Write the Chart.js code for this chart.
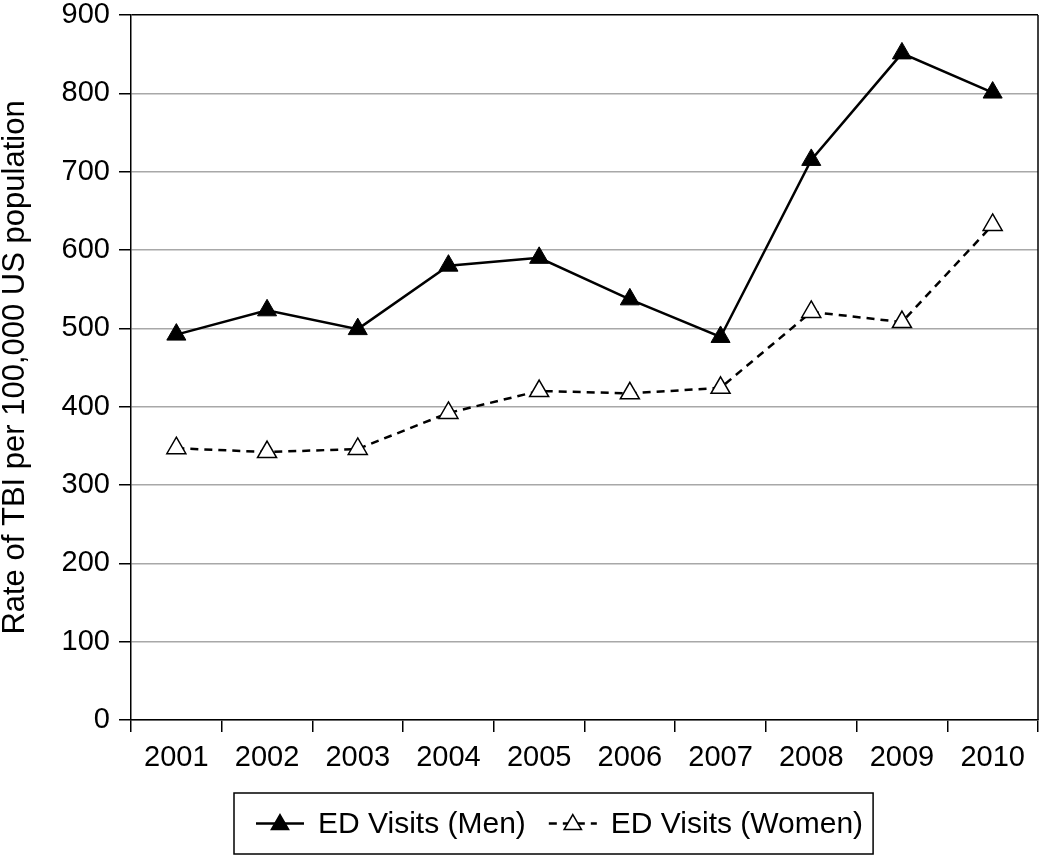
<!DOCTYPE html>
<html>
<head>
<meta charset="utf-8">
<script src="https://cdn.jsdelivr.net/npm/chart.js@4.4.1/dist/chart.umd.min.js"></script>
<style>
  html, body { margin: 0; padding: 0; background: #fff; }
  .wrap { width: 1040px; height: 856px; position: relative; }
</style>
</head>
<body>
<div class="wrap"><canvas id="chart"></canvas></div>
<script>
const years = ["2001", "2002", "2003", "2004", "2005", "2006", "2007", "2008", "2009", "2010"];
const menVisits = [492, 523, 499, 580, 590, 537, 489, 715, 851, 801];
const womenVisits = [347, 342, 346, 392, 420, 417, 424, 521, 508, 632];
const yTicks = [0, 100, 200, 300, 400, 500, 600, 700, 800, 900];

const FONT = '"Liberation Sans", Arial, Helvetica, sans-serif';

function triangle(ctx, x, y, r) {
  ctx.beginPath();
  ctx.moveTo(x, y - r);
  ctx.lineTo(x + Math.sin(2 * Math.PI / 3) * r, y + r / 2);
  ctx.lineTo(x - Math.sin(2 * Math.PI / 3) * r, y + r / 2);
  ctx.closePath();
}

// right border of the plot box
const frame = {
  id: "frame",
  afterDatasetsDraw(chart) {
    const { ctx, chartArea: a } = chart;
    ctx.save();
    ctx.strokeStyle = "#000";
    ctx.lineWidth = 1.5;
    ctx.beginPath();
    ctx.moveTo(a.right, a.top);
    ctx.lineTo(a.right, a.bottom);
    ctx.stroke();
    ctx.restore();
  }
};

// boxed legend under the axis, line sample + marker + text
const boxLegend = {
  id: "boxLegend",
  afterDraw(chart) {
    const ctx = chart.ctx;
    const boxLeft = 234, boxTop = 793, boxH = 61;
    const cy = boxTop + boxH / 2;
    ctx.save();
    ctx.font = "30px " + FONT;
    ctx.textBaseline = "middle";
    let x = boxLeft + 22;
    chart.data.datasets.forEach((ds) => {
      ctx.strokeStyle = "#000";
      ctx.lineWidth = 2.5;
      ctx.setLineDash(ds.borderDash || []);
      ctx.beginPath();
      ctx.moveTo(x, cy);
      ctx.lineTo(x + 48, cy);
      ctx.stroke();
      ctx.setLineDash([]);
      triangle(ctx, x + 24, cy + 1, 10);
      ctx.fillStyle = ds.pointBackgroundColor;
      ctx.fill();
      ctx.lineWidth = 1.5;
      ctx.stroke();
      ctx.fillStyle = "#000";
      ctx.fillText(ds.label, x + 62, cy + 1);
      x += 62 + ctx.measureText(ds.label).width + 23;
    });
    const boxRight = x - 23 + 10;
    ctx.lineWidth = 1.5;
    ctx.strokeStyle = "#000";
    ctx.strokeRect(boxLeft, boxTop, boxRight - boxLeft, boxH);
    ctx.restore();
  }
};

new Chart(document.getElementById("chart"), {
  type: "line",
  data: {
    labels: years,
    datasets: [
      {
        label: "ED Visits (Men)",
        data: menVisits,
        borderColor: "#000",
        borderWidth: 2.5,
        pointStyle: "triangle",
        pointRadius: 11,
        pointBackgroundColor: "#000",
        pointBorderColor: "#000",
        pointBorderWidth: 1,
        tension: 0
      },
      {
        label: "ED Visits (Women)",
        data: womenVisits,
        borderColor: "#000",
        borderWidth: 2.5,
        borderDash: [8, 6],
        pointStyle: "triangle",
        pointRadius: 11,
        pointBackgroundColor: "#fff",
        pointBorderColor: "#000",
        pointBorderWidth: 1.5,
        tension: 0
      }
    ]
  },
  options: {
    responsive: true,
    maintainAspectRatio: false,
    animation: false,
    layout: { autoPadding: false, padding: { top: 15, right: 2, bottom: 78, left: 0 } },
    plugins: {
      legend: { display: false },
      tooltip: { enabled: false }
    },
    scales: {
      x: {
        offset: true,
        grid: {
          offset: true,
          drawOnChartArea: false,
          color: "#000",
          lineWidth: 1.5,
          tickLength: 12
        },
        border: { color: "#000", width: 1.5 },
        ticks: {
          color: "#000",
          padding: 9,
          font: { family: FONT, size: 29 }
        },
        afterFit: (s) => {
          s.height = 58;
          s.paddingLeft = 0;
          s.paddingRight = 0;
        }
      },
      y: {
        min: 0,
        max: 900,
        afterBuildTicks: (s) => { s.ticks = yTicks.map((v) => ({ value: v })); },
        grid: {
          color: (c) => (c.tick && c.tick.value === 900 ? "#000" : "#a8a8a8"),
          lineWidth: 1.5,
          tickColor: "#000",
          tickLength: 12
        },
        border: { color: "#000", width: 1.5 },
        ticks: {
          color: "#000",
          padding: 9,
          font: { family: FONT, size: 29 }
        },
        title: {
          display: true,
          text: "Rate of TBI per 100,000 US population",
          color: "#000",
          padding: { top: 0, bottom: 0 },
          font: { family: FONT, size: 31, lineHeight: 1 }
        },
        afterFit: (s) => {
          s.width = 131;
          s.paddingTop = 0;
          s.paddingBottom = 0;
        }
      }
    }
  },
  plugins: [frame, boxLegend]
});
</script>
</body>
</html>
